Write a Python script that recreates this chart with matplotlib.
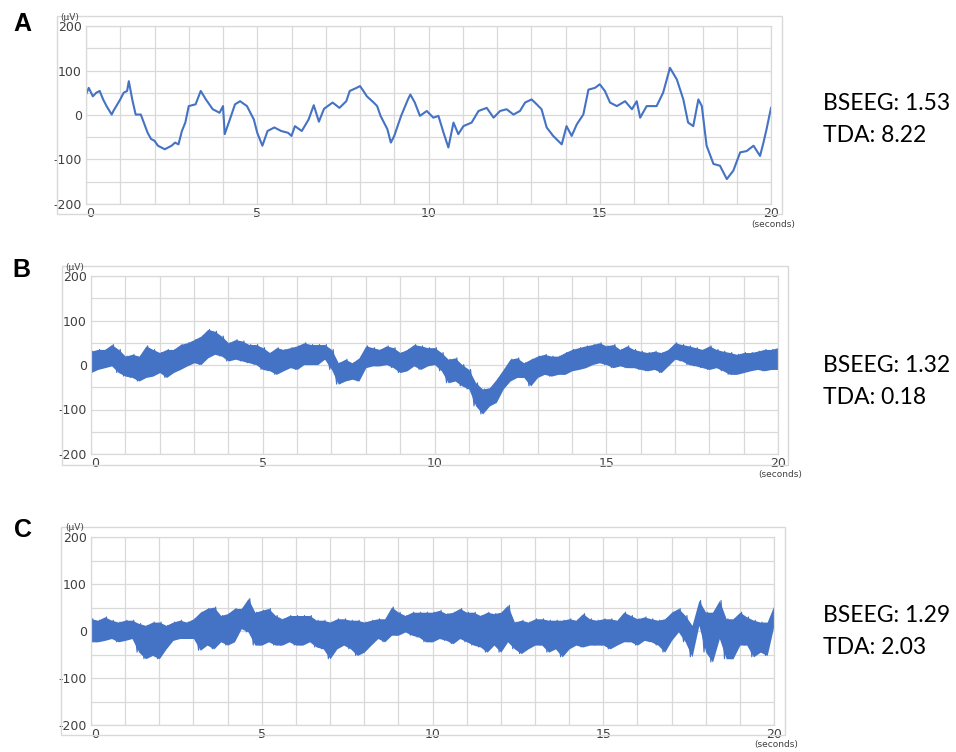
import numpy as np
import matplotlib
matplotlib.use("Agg")
import matplotlib.pyplot as plt
from matplotlib.patches import Rectangle

# Panel A: single slow trace, read at irregular times (s, uV)
a_t = [0, 0.08, 0.2, 0.3, 0.4, 0.5, 0.6, 0.75, 0.8, 1.0, 1.1, 1.2, 1.25, 1.35,
       1.45, 1.6, 1.8, 1.9, 2.0, 2.1, 2.3, 2.5, 2.6, 2.7, 2.8, 2.9, 3.0, 3.2,
       3.35, 3.5, 3.7, 3.9, 4.0, 4.05, 4.2, 4.35, 4.5, 4.7, 4.9, 5.0, 5.15, 5.3,
       5.5, 5.7, 5.9, 6.0, 6.1, 6.3, 6.5, 6.65, 6.8, 6.95, 7.2, 7.4, 7.6, 7.7,
       7.9, 8.0, 8.1, 8.2, 8.4, 8.5, 8.6, 8.8, 8.9, 9.0, 9.2, 9.4, 9.47, 9.6,
       9.75, 9.95, 10.14, 10.29, 10.44, 10.58, 10.73, 10.87, 11.02, 11.26, 11.46,
       11.7, 11.9, 12.09, 12.28, 12.48, 12.67, 12.82, 13.01, 13.16, 13.3, 13.45,
       13.64, 13.89, 14.03, 14.18, 14.33, 14.52, 14.67, 14.86, 15.0, 15.15, 15.3,
       15.5, 15.74, 15.94, 16.08, 16.18, 16.37, 16.66, 16.85, 17.05, 17.25, 17.44,
       17.58, 17.73, 17.88, 17.98, 18.12, 18.32, 18.51, 18.71, 18.9, 19.1, 19.29,
       19.49, 19.68, 19.78, 19.87, 20.0]
a_uv = [46, 61, 42, 50, 54, 35, 20, 1, 9, 35, 50, 54, 76, 35,
        1, 1, -40, -54, -58, -69, -77, -69, -62, -66, -36, -17, 20, 24,
        54, 35, 13, 5, 20, -43, -10, 24, 31, 20, -10, -40, -69, -36,
        -28, -36, -40, -47, -25, -36, -10, 22, -15, 14, 28, 16, 31, 54,
        61, 65, 54, 42, 28, 20, -2, -32, -62, -47, -2, 35, 46, 28,
        -2, 9, -6, -2, -40, -73, -17, -43, -25, -17, 9,
        16, -6, 9, 13, 1, 9, 28, 35, 24, 13, -28,
        -47, -66, -25, -47, -21, 1, 57, 61, 69, 54, 28,
        20, 31, 13, 31, -6, 20, 20, 50, 106, 80, 35,
        -17, -25, 35, 20, -69, -110, -114, -144, -125, -84, -81,
        -69, -92, -62, -32, 16]

# Panels B and C: dense noisy traces, min / max envelope every 0.2 s (uV)
b_hi = [31, 35, 35, 46, 35, 20, 24, 20, 43, 35,
        28, 35, 35, 46, 50, 57, 65, 80, 76, 65,
        50, 57, 54, 46, 46, 39, 28, 39, 35, 39,
        43, 50, 46, 46, 46, 35, 5, 13, 5, 16,
        43, 39, 35, 43, 39, 28, 35, 46, 43, 39,
        39, 28, 13, 16, 1, -10, -40, -54, -51, -32,
        -10, 13, 16, 5, 13, 20, 24, 20, 20, 28,
        35, 39, 43, 46, 50, 43, 46, 35, 43, 35,
        31, 28, 31, 28, 35, 50, 46, 43, 39, 35,
        43, 35, 31, 28, 24, 28, 28, 31, 35, 35,
        39]
b_lo = [-17, -10, -6, -2, -17, -25, -28, -36, -28, -25,
        -17, -28, -17, -10, -2, 5, 1, 16, 24, 20,
        9, 13, 9, 5, 1, -10, -13, -21, -13, -6,
        -10, 1, 1, 1, 13, -10, -43, -36, -32, -36,
        -6, -2, -2, 1, -6, -17, -13, -2, -10, -2,
        1, -13, -40, -36, -47, -54, -92, -110, -92, -84,
        -54, -36, -28, -28, -47, -28, -21, -25, -21, -21,
        -13, -10, -6, 1, 5, 1, -6, -2, -6, -6,
        -10, -13, -10, -17, -2, 13, 9, 1, -2, -6,
        -10, -6, -13, -21, -21, -17, -13, -10, -13, -10,
        -10]
c_hi = [26, 23, 30, 23, 19, 23, 23, 16, 12, 19,
        19, 12, 19, 23, 19, 26, 40, 48, 51, 33,
        37, 48, 48, 69, 40, 44, 48, 33, 26, 33,
        33, 33, 33, 23, 23, 19, 26, 26, 23, 23,
        19, 23, 26, 26, 51, 40, 33, 40, 40, 40,
        40, 44, 37, 40, 48, 40, 40, 33, 40, 37,
        40, 55, 19, 23, 19, 26, 26, 23, 23, 23,
        26, 23, 37, 26, 23, 26, 26, 23, 40, 33,
        26, 30, 26, 23, 26, 40, 48, 33, 12, 65,
        40, 40, 65, 26, 26, 40, 30, 23, 19, 19,
        55]
c_lo = [-23, -23, -20, -16, -23, -20, -16, -45, -59, -52,
        -59, -38, -20, -16, -16, -16, -41, -30, -38, -23,
        -30, -23, 5, -2, -30, -30, -23, -30, -30, -23,
        -30, -30, -23, -34, -38, -59, -38, -30, -38, -52,
        -45, -30, -16, -23, -9, -9, -2, -9, -13, -23,
        -23, -16, -20, -27, -16, -23, -30, -34, -45, -30,
        -45, -23, -38, -48, -38, -30, -30, -45, -38, -55,
        -38, -30, -34, -30, -30, -30, -38, -30, -23, -23,
        -30, -20, -23, -30, -45, -20, -2, -23, -55, 12,
        -45, -66, -16, -59, -59, -30, -30, -55, -45, -52,
        12]

panel_letters = ["A", "B", "C"]
bseeg = ["1.53", "1.32", "1.29"]
tda = ["8.22", "0.18", "2.03"]

W, H = 956, 752
BLUE = "#4472C4"
GRID = "#d9d9d9"
TXT = "#404040"

fig = plt.figure(figsize=(W / 100, H / 100), dpi=100)
fig.patch.set_facecolor("white")


def fx(x):
    return x / W


def fy(y):
    return 1 - y / H


def make_axes(left, top, right, bottom):
    ax = fig.add_axes([fx(left), fy(bottom), (right - left) / W, (bottom - top) / H])
    ax.set_xlim(0, 20)
    ax.set_ylim(-200, 200)
    ax.set_xticks(range(21))
    ax.set_xticklabels([str(i) if i % 5 == 0 else "" for i in range(21)])
    ax.get_xticklabels()[0].set_horizontalalignment("left")
    ax.set_yticks(range(-200, 201, 50))
    ax.set_yticklabels([str(v) if v % 100 == 0 else "" for v in range(-200, 201, 50)])
    ax.tick_params(length=0, labelsize=9, colors=TXT)
    ax.tick_params(axis="y", pad=3)
    ax.tick_params(axis="x", pad=2)
    ax.grid(True, color=GRID, linewidth=0.9)
    ax.set_axisbelow(True)
    for s in ax.spines.values():
        s.set_color(GRID)
        s.set_linewidth(0.9)
    return ax


# pixel boxes: plot area and outer chart frame
plot_boxes = [(86, 26, 771, 204), (91, 276, 778, 454), (91, 537, 774, 725)]
frame_boxes = [(57, 16, 782, 214), (62, 266, 788, 465), (61, 527, 785, 735)]
letter_pos = [(22, 24), (21, 270), (23, 530)]
score_y = [104, 366, 616]

axes = []
for i in range(3):
    ax = make_axes(*plot_boxes[i])
    axes.append(ax)
    l, t, r, b = frame_boxes[i]
    fig.add_artist(Rectangle((fx(l), fy(b)), (r - l) / W, (b - t) / H,
                             transform=fig.transFigure, fill=False,
                             edgecolor=GRID, linewidth=1.0))
    pl, pt, pr, pb = plot_boxes[i]
    fig.text(fx(pl - 16), fy(t + 1), "(\u03bcV)", fontsize=6.5, color=TXT,
             ha="center", va="center")
    fig.text(fx(pr + 2), fy(pb + 20), "(seconds)", fontsize=6.5, color=TXT,
             ha="center", va="center")
    fig.text(fx(letter_pos[i][0]), fy(letter_pos[i][1]), panel_letters[i],
             fontsize=18, fontweight="bold", family="Liberation Sans",
             ha="center", va="center", color="black")
    fig.text(fx(823), fy(score_y[i]), "BSEEG: " + bseeg[i], fontsize=16.5,
             family="Lato", ha="left", va="center", color="black")
    fig.text(fx(823), fy(score_y[i] + 32), "TDA: " + tda[i], fontsize=16.5,
             family="Lato", ha="left", va="center", color="black")

# A
axes[0].plot(a_t, a_uv, color=BLUE, linewidth=1.5)

# B, C: filled min/max envelope band, with a min/max zigzag for the noisy edge
tt = np.arange(len(b_hi)) * 0.2
for ax, lo, hi in [(axes[1], b_lo, b_hi), (axes[2], c_lo, c_hi)]:
    ax.fill_between(tt, lo, hi, color=BLUE, linewidth=0)
    zx = np.column_stack([tt - 0.05, tt + 0.05]).ravel()
    zy = np.column_stack([lo, hi]).ravel()
    ax.plot(zx, zy, color=BLUE, linewidth=0.8)

fig.savefig("out.png", dpi=100)
